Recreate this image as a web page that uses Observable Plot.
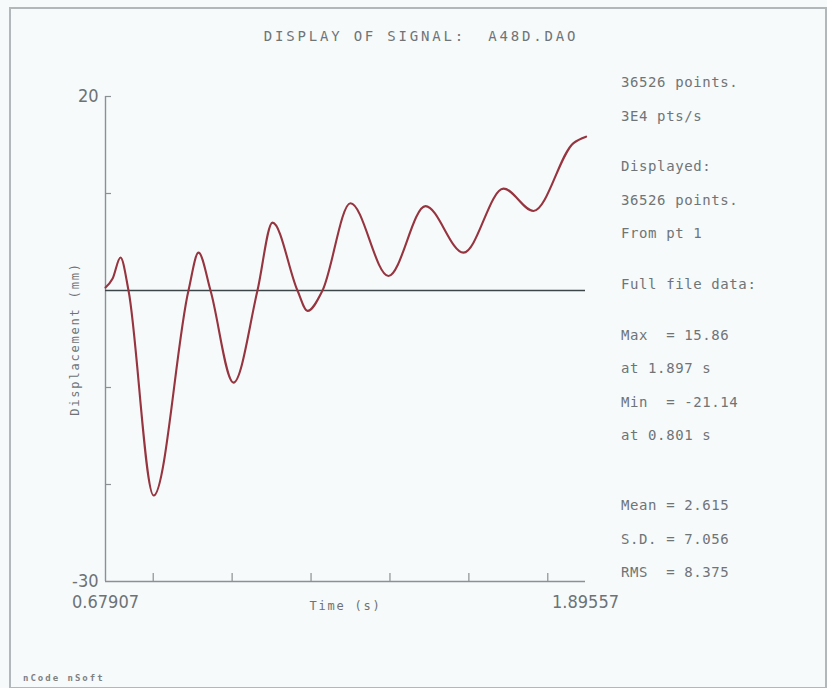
<!DOCTYPE html>
<html>
<head>
<meta charset="utf-8">
<script src="https://cdn.jsdelivr.net/npm/d3@7"></script>
<script src="https://cdn.jsdelivr.net/npm/@observablehq/plot@0.6"></script>
<style>
  html, body { margin: 0; padding: 0; background: #f6fafb; }
  #page { position: relative; width: 827px; height: 688px; overflow: hidden; background: #f6fafb; }
  #frame { position: absolute; left: 9px; top: 7px; width: 814px; height: 678px; border: 2px solid #b2b7ba; }
  #title {
    position: absolute; left: 0; width: 842px; top: 28px; text-align: center;
    font: 14px "DejaVu Sans Mono", monospace; letter-spacing: 2.8px; color: #6f7477; white-space: pre;
  }
  #info {
    position: absolute; left: 621px; top: 66px;
    font: 14px "DejaVu Sans Mono", monospace; letter-spacing: 0.6px; color: #6f7477;
  }
  #info .group { margin-top: 17px; }
  #info .group:first-child { margin-top: 0; }
  #info .group:last-child { margin-top: 36px; }
  #info .line { height: 33.6px; line-height: 33.6px; white-space: pre; }
  #footer {
    position: absolute; left: 23px; top: 673px;
    font: bold 9px "DejaVu Sans Mono", monospace; letter-spacing: 2px; color: #7c8184;
  }
  #chart { position: absolute; left: 0; top: 0; }
  #chart svg { overflow: visible; }
  g[aria-label="x-axis label"] text, g[aria-label="y-axis label"] text {
    font-family: "DejaVu Sans Mono", monospace; font-size: 12px; letter-spacing: 1.8px;
  }
</style>
</head>
<body>
<div id="page">
  <div id="frame"></div>
  <div id="title"></div>
  <div id="info"></div>
  <div id="footer"></div>
  <div id="chart"></div>
</div>
<script>
// Displacement record, time in seconds and displacement in mm
const timeS = [0.67907, 0.6968, 0.7171, 0.7374, 0.801, 0.8894, 0.9148, 0.9452, 1.0034,
  1.0642, 1.1023, 1.1656, 1.1910, 1.2290, 1.2999, 1.3962, 1.4900, 1.5863, 1.6877,
  1.7637, 1.8651, 1.897];
const displacementMm = [0.3, 1.2, 3.4, 0, -21.14, 0, 3.9, 0, -9.5,
  0, 7.0, 0, -2.1, 0, 9.0, 1.5, 8.7, 3.9, 10.5,
  8.2, 15.2, 15.86];

// Axis extents and ticks
const timeRange = [0.67907, 1.89557];
const dispRange = [-30, 20];
const timeTickLabels = [0.67907, 1.89557];
const timeMinorTicks = [0.8, 1.0, 1.2, 1.4, 1.6, 1.8];
const dispTickLabels = [20, -30];
const dispMinorTicks = [20, 10, -10, -20];

// Header and statistics panel
const titleText = "DISPLAY OF SIGNAL:  A48D.DAO";
const infoGroups = [
  ["36526 points.", "3E4 pts/s"],
  ["Displayed:", "36526 points.", "From pt 1"],
  ["Full file data:"],
  ["Max  = 15.86", "at 1.897 s", "Min  = -21.14", "at 0.801 s"],
  ["Mean = 2.615", "S.D. = 7.056", "RMS  = 8.375"]
];
const footerText = "nCode nSoft";

document.getElementById("title").textContent = titleText;
document.getElementById("footer").textContent = footerText;
const info = d3.select("#info");
info.selectAll("div.group").data(infoGroups).join("div").attr("class", "group")
  .selectAll("div.line").data(d => d).join("div").attr("class", "line").text(d => d);

const samples = timeS.map((t, i) => ({t, v: displacementMm[i]}));

const axisGrey = "#8b9093";
const chart = Plot.plot({
  width: 827,
  height: 688,
  marginLeft: 105,
  marginRight: 242,
  marginTop: 96,
  marginBottom: 107,
  style: {background: "transparent", color: "#6d7275", fontFamily: "'DejaVu Sans Condensed', 'DejaVu Sans', sans-serif"},
  x: {domain: timeRange},
  y: {domain: dispRange},
  marks: [
    Plot.ruleX([timeRange[0]], {stroke: axisGrey, strokeWidth: 1.4}),
    Plot.ruleY([dispRange[0]], {stroke: axisGrey, strokeWidth: 1.4}),
    Plot.tickX(timeMinorTicks, {x: d => d, insetTop: 477, stroke: axisGrey, strokeWidth: 1.2}),
    Plot.tickY(dispMinorTicks, {y: d => d, insetRight: 474, stroke: axisGrey, strokeWidth: 1.2}),
    Plot.axisY(dispTickLabels, {
      tickSize: 0, tickPadding: 7, fontSize: 18, tickFormat: d => String(d),
      label: "Displacement (mm)", labelAnchor: "center", labelArrow: "none", labelOffset: 35
    }),
    Plot.axisX(timeTickLabels, {
      tickSize: 0, tickPadding: 14, fontSize: 18, tickFormat: d => d.toFixed(5),
      label: "Time (s)", labelAnchor: "center", labelArrow: "none", labelOffset: 28
    }),
    Plot.ruleY([0], {stroke: "#3c4548", strokeWidth: 1.7}),
    Plot.line(samples, {x: "t", y: "v", curve: "monotone-x", stroke: "#96343f", strokeWidth: 2.1})
  ]
});
document.getElementById("chart").append(chart);
</script>
</body>
</html>
